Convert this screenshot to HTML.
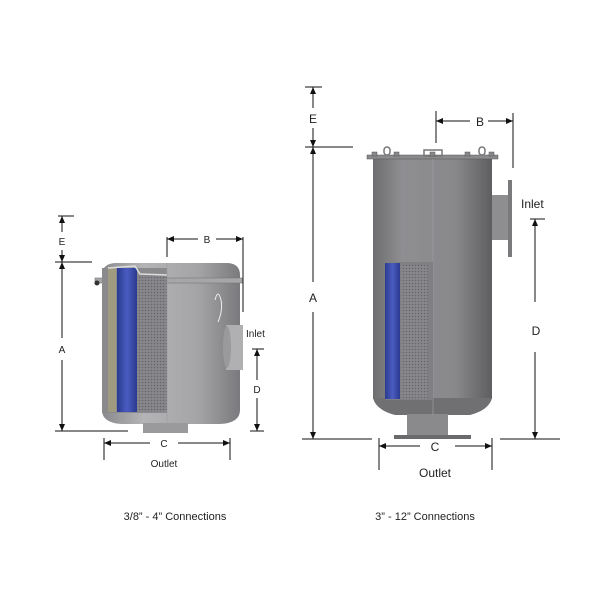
<!DOCTYPE html>
<html><head><style>
body{margin:0;background:#fff}
svg{display:block}
text{font-family:"Liberation Sans",sans-serif;fill:#222}
</style></head><body>
<svg width="600" height="600" viewBox="0 0 600 600" xmlns="http://www.w3.org/2000/svg">
<defs>
<linearGradient id="g1" x1="0" x2="1"><stop offset="0" stop-color="#8a8a8d"/><stop offset="0.3" stop-color="#b4b4b7"/><stop offset="0.7" stop-color="#a4a4a7"/><stop offset="1" stop-color="#7a7a7d"/></linearGradient>
<linearGradient id="g2" x1="0" x2="1"><stop offset="0" stop-color="#6e6e71"/><stop offset="0.25" stop-color="#8f8f92"/><stop offset="0.7" stop-color="#88888b"/><stop offset="1" stop-color="#5e5e61"/></linearGradient>
<linearGradient id="bl" x1="0" x2="1"><stop offset="0" stop-color="#2a3a90"/><stop offset="0.5" stop-color="#4a5cc0"/><stop offset="1" stop-color="#2a3a90"/></linearGradient>
<pattern id="mesh" width="3" height="3" patternUnits="userSpaceOnUse"><rect width="3" height="3" fill="#88888c"/><circle cx="1.5" cy="1.5" r="0.8" fill="#66666a"/></pattern>
<marker id="ar" markerWidth="8" markerHeight="8" refX="7" refY="4" orient="auto" markerUnits="userSpaceOnUse"><path d="M0 1 L7 4 L0 7 Z" fill="#111"/></marker>
</defs>

<!-- LEFT FILTER -->
<path d="M102 275 Q102 264 115 263 L228 263 Q240 264 240 275 L240 410 Q240 423 220 424 L122 424 Q102 423 102 410 Z" fill="url(#g1)"/>
<rect x="95" y="278" width="148" height="5" fill="#a6a6a9" stroke="#777" stroke-width="0.6"/>
<rect x="143" y="423" width="45" height="10" fill="#9a9a9d"/>
<rect x="102" y="268" width="65" height="145" fill="#8a8a8d"/>
<rect x="108" y="268" width="8" height="144" fill="#a09a80"/>
<rect x="117" y="268" width="20" height="144" fill="url(#bl)"/>
<rect x="137" y="275" width="30" height="137" fill="url(#mesh)"/>
<path d="M108 268 L135 266 L140 274 L167 275" fill="none" stroke="#ddd" stroke-width="1.5"/>
<line x1="167" y1="263" x2="167" y2="424" stroke="#999" stroke-width="0.6"/>
<rect x="226" y="325" width="17" height="45" fill="#b0b0b3"/>
<ellipse cx="227" cy="347" rx="4" ry="21" fill="#9a9a9d"/>
<path d="M215 300 q3 -12 6 0 q2 10 -3 22" fill="none" stroke="#eee" stroke-width="1"/>
<circle cx="97" cy="283" r="2.5" fill="#333"/>

<!-- left dims -->
<g stroke="#111" stroke-width="1" fill="none">
<line x1="58" y1="216" x2="74" y2="216"/>
<line x1="62" y1="232" x2="62" y2="216" marker-end="url(#ar)"/><line x1="62" y1="250" x2="62" y2="262" marker-end="url(#ar)"/>
<line x1="55" y1="262" x2="92" y2="262"/>
<line x1="62" y1="338" x2="62" y2="262" marker-end="url(#ar)"/><line x1="62" y1="360" x2="62" y2="431" marker-end="url(#ar)"/>
<line x1="55" y1="431" x2="128" y2="431"/>
<line x1="167" y1="237" x2="167" y2="257"/><line x1="243" y1="237" x2="243" y2="312"/>
<line x1="198" y1="239" x2="167" y2="239" marker-end="url(#ar)"/><line x1="216" y1="239" x2="243" y2="239" marker-end="url(#ar)"/>
<line x1="252" y1="349" x2="264" y2="349"/>
<line x1="257" y1="380" x2="257" y2="349" marker-end="url(#ar)"/><line x1="257" y1="398" x2="257" y2="431" marker-end="url(#ar)"/>
<line x1="250" y1="431" x2="264" y2="431"/>
<line x1="104" y1="438" x2="104" y2="460"/><line x1="230" y1="438" x2="230" y2="460"/>
<line x1="150" y1="443" x2="104" y2="443" marker-end="url(#ar)"/><line x1="178" y1="443" x2="230" y2="443" marker-end="url(#ar)"/>
</g>
<text x="62" y="245" font-size="10" text-anchor="middle">E</text>
<text x="62" y="353" font-size="10" text-anchor="middle">A</text>
<text x="207" y="243" font-size="10" text-anchor="middle">B</text>
<text x="246" y="337" font-size="10">Inlet</text>
<text x="257" y="393" font-size="10" text-anchor="middle">D</text>
<text x="164" y="447" font-size="10" text-anchor="middle">C</text>
<text x="164" y="467" font-size="10" text-anchor="middle">Outlet</text>

<!-- RIGHT FILTER -->
<rect x="373" y="159" width="119" height="240" fill="url(#g2)"/>
<path d="M373 398 Q376 410 395 415 L470 415 Q489 410 492 398 Z" fill="#707073"/>
<rect x="407" y="414" width="41" height="22" fill="#8a8a8d"/>
<rect x="394" y="435" width="77" height="4" fill="#6a6a6d"/>
<rect x="367" y="155" width="131" height="4" fill="#8a8a8d" stroke="#555" stroke-width="0.5"/>
<rect x="424" y="150" width="18" height="6" fill="none" stroke="#777" stroke-width="1.5"/>
<g fill="none" stroke="#777" stroke-width="1.5">
<rect x="384" y="147" width="6" height="8" rx="3"/><rect x="479" y="147" width="6" height="8" rx="3"/>
</g>
<g fill="#888" stroke="#555" stroke-width="0.5">
<rect x="372" y="152" width="5" height="4"/><rect x="394" y="152" width="5" height="4"/><rect x="430" y="152" width="5" height="4"/><rect x="465" y="152" width="5" height="4"/><rect x="489" y="152" width="5" height="4"/>
</g>
<line x1="433" y1="159" x2="433" y2="415" stroke="#9a9a9d" stroke-width="0.8"/>
<rect x="385" y="262" width="48" height="138" fill="#808083"/>
<rect x="385" y="263" width="15" height="136" fill="url(#bl)"/>
<rect x="401" y="265" width="27" height="134" fill="url(#mesh)"/>
<rect x="492" y="195" width="17" height="45" fill="#8e8e91"/>
<rect x="508" y="180" width="4" height="77" fill="#7a7a7d"/>

<!-- right dims -->
<g stroke="#111" stroke-width="1" fill="none">
<line x1="305" y1="87" x2="322" y2="87"/>
<line x1="313" y1="108" x2="313" y2="87" marker-end="url(#ar)"/><line x1="313" y1="128" x2="313" y2="147" marker-end="url(#ar)"/>
<line x1="305" y1="147" x2="353" y2="147"/>
<line x1="313" y1="282" x2="313" y2="147" marker-end="url(#ar)"/><line x1="313" y1="312" x2="313" y2="439" marker-end="url(#ar)"/>
<line x1="302" y1="439" x2="372" y2="439"/>
<line x1="436" y1="111" x2="436" y2="143"/><line x1="513" y1="113" x2="513" y2="168"/>
<line x1="470" y1="121" x2="436" y2="121" marker-end="url(#ar)"/><line x1="488" y1="121" x2="513" y2="121" marker-end="url(#ar)"/>
<line x1="530" y1="219" x2="545" y2="219"/>
<line x1="535" y1="302" x2="535" y2="219" marker-end="url(#ar)"/><line x1="535" y1="352" x2="535" y2="439" marker-end="url(#ar)"/>
<line x1="500" y1="439" x2="560" y2="439"/>
<line x1="379" y1="438" x2="379" y2="470"/><line x1="492" y1="438" x2="492" y2="470"/>
<line x1="420" y1="446" x2="379" y2="446" marker-end="url(#ar)"/><line x1="455" y1="446" x2="492" y2="446" marker-end="url(#ar)"/>
</g>
<text x="313" y="123" font-size="12" text-anchor="middle">E</text>
<text x="313" y="302" font-size="12" text-anchor="middle">A</text>
<text x="480" y="126" font-size="12" text-anchor="middle">B</text>
<text x="521" y="208" font-size="12">Inlet</text>
<text x="536" y="335" font-size="12" text-anchor="middle">D</text>
<text x="435" y="451" font-size="12" text-anchor="middle">C</text>
<text x="435" y="477" font-size="12" text-anchor="middle">Outlet</text>

<text x="175" y="520" font-size="11" text-anchor="middle">3/8” - 4” Connections</text>
<text x="425" y="520" font-size="11" text-anchor="middle">3” - 12” Connections</text>
</svg>
</body></html>
